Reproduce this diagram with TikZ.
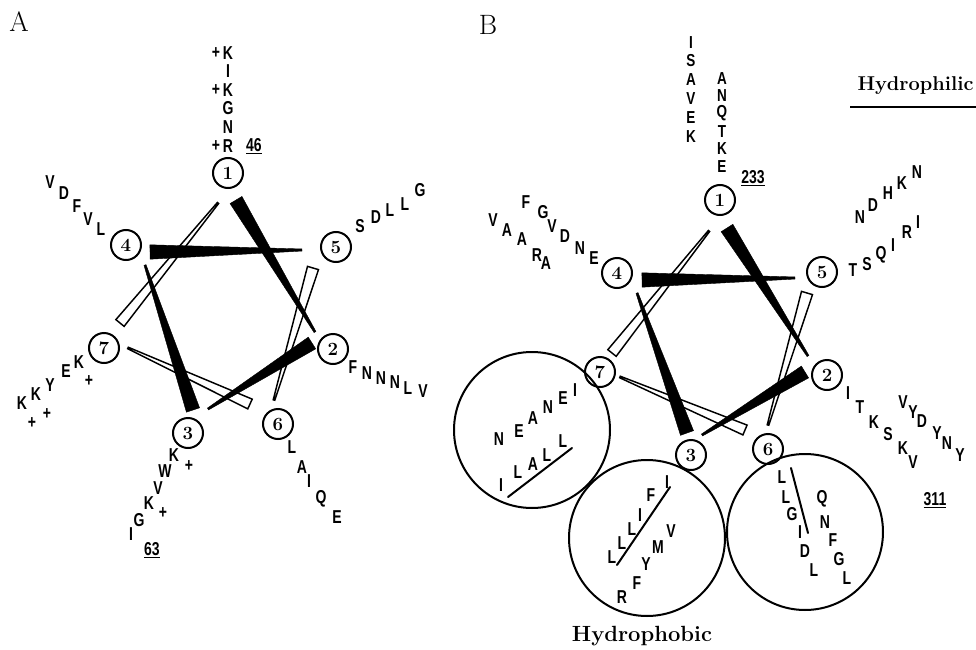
\documentclass[tikz,border=0pt]{standalone}
\usepackage{fontspec}
\newfontfamily\resfont{Liberation Sans}
\usetikzlibrary{calc}
\tikzset{
  res/.style={font=\resfont\bfseries\fontsize{14}{14}\selectfont, inner sep=0pt, xscale=0.75},
  ressm/.style={font=\resfont\bfseries\fontsize{13}{13}\selectfont, inner sep=0pt, xscale=0.78},
  num/.style={circle, draw, line width=1.5pt, minimum size=22.5pt, inner sep=0pt, font=\bfseries\fontsize{14}{14}\selectfont},
  panel/.style={font=\fontsize{21}{21}\selectfont, inner sep=0pt},
  lab/.style={font=\bfseries\fontsize{16.5}{16.5}\selectfont, inner sep=0pt},
  labsm/.style={font=\bfseries\fontsize{15}{15}\selectfont, inner sep=0pt},
  hcirc/.style={circle, draw, line width=1.5pt, minimum size=117pt, inner sep=0pt},
  axisline/.style={line width=1.5pt, line cap=round},
  openw/.style={fill=white, draw=black, line width=1.1pt, line join=miter},
  blackw/.style={fill=black, draw=black, line width=0.3pt}
}
\newcommand\blackwedge[3]{%
  \path[blackw] ($(#1)!#3!90:(#2)$) -- ($(#1)!#3!-90:(#2)$) -- ($(#2)!0.8pt!90:(#1)$) -- ($(#2)!0.8pt!-90:(#1)$) -- cycle;}
\newcommand\openwedge[3]{%
  \path[openw] ($(#1)!#3!90:(#2)$) -- ($(#1)!#3!-90:(#2)$) -- ($(#2)!0.6pt!90:(#1)$) -- ($(#2)!0.6pt!-90:(#1)$) -- cycle;}
\begin{document}
\begin{tikzpicture}[x=0.75pt,y=-0.75pt]
\useasboundingbox (0,0) rectangle (976,650);
\node[panel] (lA) at (19,22) {A};
\node[panel] (lB) at (488,25) {B};
% ---------------- Panel A ----------------
\coordinate (a1s) at (236,200); \coordinate (a1e) at (315,332);
\coordinate (a2s) at (312,343); \coordinate (a2e) at (208,409);
\coordinate (a3s) at (193,410); \coordinate (a3e) at (145,265);
\coordinate (a4s) at (150,252); \coordinate (a4e) at (302,250);
\coordinate (a5s) at (313,268); \coordinate (a5e) at (274,400);
\coordinate (a6s) at (250,404); \coordinate (a6e) at (128,348);
\coordinate (a7s) at (120,323); \coordinate (a7e) at (218,203);
\openwedge{a5s}{a5e}{4.3pt}
\openwedge{a6s}{a6e}{4pt}
\openwedge{a7s}{a7e}{4pt}
\blackwedge{a1s}{a1e}{5.2pt}
\blackwedge{a2s}{a2e}{5.2pt}
\blackwedge{a3s}{a3e}{5.2pt}
\blackwedge{a4s}{a4e}{5.4pt}
\node[num] (A1) at (228,173) {1};
\node[num] (A2) at (333,349) {2};
\node[num] (A3) at (188,433) {3};
\node[num] (A4) at (126,245) {4};
\node[num] (A5) at (336,247) {5};
\node[num] (A6) at (278,424) {6};
\node[num] (A7) at (104,348) {7};
\foreach \t/\x/\y [count=\i] in {
  K/228/53, I/228/71, K/228/90, G/228/108, N/228/127, R/228/146,
  +/216/53, +/216/90, +/216/146,
  V/50/182, D/64/193, F/77/206, V/88/219, L/101/229,
  S/360/226, D/376/217, L/390/210, L/405/204, G/420/190,
  F/353/367, N/367/373, N/381/378, N/395/382, L/408/388, V/423/391,
  K/79/362, E/66/371, Y/50/385, K/36/394, K/22/403,
  +/89/381, +/47/414, +/32/423,
  K/174/455, +/189/466, W/165/471, V/158/488, K/149/503, +/163/513, G/139/520, I/131/534,
  L/292/447, A/302/467, I/309/481, Q/321/499, E/337/517}
  \node[res] (ra\i) at (\x,\y) {\t};
\node[res] (n46) at (254,146) {\underline{46}};
\node[res] (n63) at (152,550) {\underline{63}};
% ---------------- Panel B ----------------
\coordinate (b1s) at (727,228); \coordinate (b1e) at (808,356);
\coordinate (b2s) at (805,372); \coordinate (b2e) at (702,435);
\coordinate (b3s) at (687,433); \coordinate (b3e) at (637,293);
\coordinate (b4s) at (642,280); \coordinate (b4e) at (795,278);
\coordinate (b5s) at (807,293); \coordinate (b5e) at (768,425);
\coordinate (b6s) at (745,430); \coordinate (b6e) at (620,377);
\coordinate (b7s) at (612,353); \coordinate (b7e) at (709,231);
\openwedge{b5s}{b5e}{4.3pt}
\openwedge{b6s}{b6e}{4pt}
\openwedge{b7s}{b7e}{4pt}
\blackwedge{b1s}{b1e}{5.2pt}
\blackwedge{b2s}{b2e}{5.2pt}
\blackwedge{b3s}{b3e}{5.2pt}
\blackwedge{b4s}{b4e}{5.4pt}
\node[num] (B1) at (720,200) {1};
\node[num] (B2) at (827,375) {2};
\node[num] (B3) at (691,455) {3};
\node[num] (B4) at (617,273) {4};
\node[num] (B5) at (822,272) {5};
\node[num] (B6) at (768,449) {6};
\node[num] (B7) at (600,372) {7};
\foreach \t/\x/\y [count=\i] in {
  I/691/43, S/691/61, A/691/80, V/691/99, E/691/118, K/691/137,
  A/722/79, N/722/96, Q/722/113, T/722/132, K/722/149, E/722/167}
  \node[ressm] (rt\i) at (\x,\y) {\t};
\foreach \t/\x/\y [count=\i] in {
  F/526/202, G/543/212, V/552/226, D/565/236, N/580/248, E/594/258,
  V/493/220, A/507/230, A/522/239, R/537/255, A/546/263,
  T/853/270, S/867/264, Q/881/255, I/893/245, R/907/232, I/918/222,
  N/860/217, D/873/205, H/888/193, K/902/183, N/917/172,
  I/848/393, T/860/407, K/874/422, S/888/434, K/903/448, V/913/462,
  V/903/402, Y/913/412, D/922/421, Y/937/433, N/947/443, Y/960/455}
  \node[res] (rb\i) at (\x,\y) {\t};
\node[res] (n233) at (753,178) {\underline{233}};
\node[res] (n311) at (935,500) {\underline{311}};
\node[labsm, anchor=east] (hphil) at (974,86) {Hydrophilic};
\coordinate (ulA) at (850,107); \coordinate (ulB) at (976,107);
\draw[line width=1pt] (ulA) -- (ulB);
% hydrophobic circles
\node[hcirc] (C1) at (532,430) {};
\node[hcirc] (C2) at (647,538) {};
\node[hcirc] (C3) at (805,532) {};
\foreach \t/\x/\y [count=\i] in {
  N/499/439, E/519/431, A/533/418, N/548/407, E/563/398, I/575/390,
  I/501/485, L/518/472, A/533/464, L/547/455, L/563/441,
  L/612/557, L/622/543, L/632/529, I/640/515, F/651/495, I/667/482,
  V/671/531, M/658/547, Y/646/564, F/637/583, R/622/597,
  L/782/477, L/786/497, G/792/514, I/800/532, D/805/551, L/814/570,
  Q/822/499, N/825/522, F/833/540, G/839/559, L/847/578}
  \node[res] (rc\i) at (\x,\y) {\t};
\coordinate (h1a) at (508,497); \coordinate (h1b) at (572,448);
\coordinate (h2a) at (617,565); \coordinate (h2b) at (670,487);
\coordinate (h3a) at (791,468); \coordinate (h3b) at (808,533);
\draw[axisline] (h1a) -- (h1b);
\draw[axisline] (h2a) -- (h2b);
\draw[axisline] (h3a) -- (h3b);
\node[lab] (hphob) at (642,636) {Hydrophobic};
\end{tikzpicture}
\end{document}
